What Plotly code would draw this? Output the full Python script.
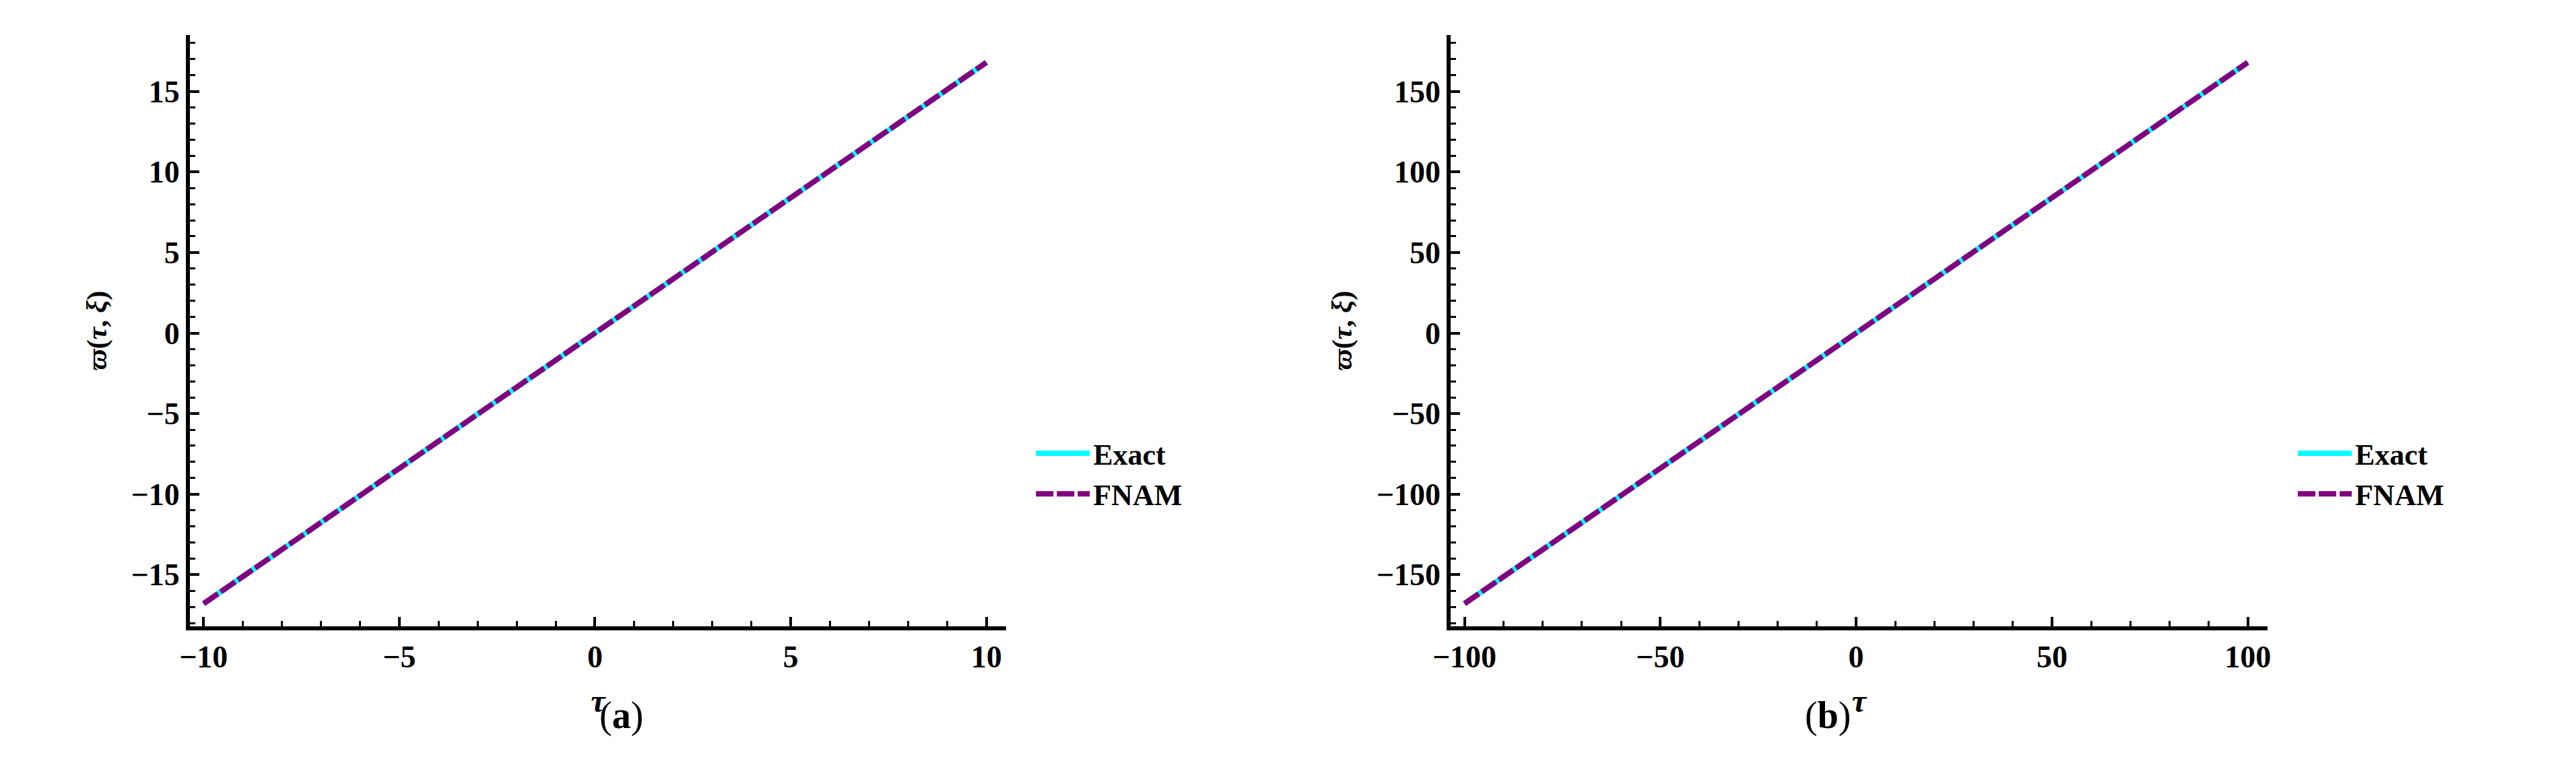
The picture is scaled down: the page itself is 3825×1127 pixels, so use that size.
import plotly.graph_objects as go

# panel (a)
tau_a = [-10, -5, 0, 5, 10]
exact_a = [-16.8, -8.4, 0, 8.4, 16.8]
fnam_a = [-16.8, -8.4, 0, 8.4, 16.8]
# panel (b)
tau_b = [-100, -50, 0, 50, 100]
exact_b = [-168, -84, 0, 84, 168]
fnam_b = [-168, -84, 0, 84, 168]

FONT = "Liberation Serif"

fig = go.Figure()

for xs, ex, fn, xa, ya, lg in [(tau_a, exact_a, fnam_a, "x", "y", "legend"),
                               (tau_b, exact_b, fnam_b, "x2", "y2", "legend2")]:
    fig.add_trace(go.Scatter(x=xs, y=ex, name="Exact", mode="lines",
                             line=dict(color="#00FFFF", width=8),
                             xaxis=xa, yaxis=ya, legend=lg))
    fig.add_trace(go.Scatter(x=xs, y=fn, name="FNAM", mode="lines",
                             line=dict(color="#800080", width=8, dash="26px,5px"),
                             xaxis=xa, yaxis=ya, legend=lg))

axis_common = dict(showline=True, linecolor="black", linewidth=6, showgrid=False,
                   zeroline=False, ticks="inside", ticklen=14, tickwidth=4,
                   tickcolor="black", mirror=False,
                   tickfont=dict(family=FONT, size=46, color="black", weight="bold"))
minor_a = dict(ticks="inside", dtick=1, ticklen=8, tickwidth=3, tickcolor="black")
minor_b = dict(ticks="inside", dtick=10, ticklen=8, tickwidth=3, tickcolor="black")
xtitle = dict(text="<b><i>τ</i></b>", font=dict(family=FONT, size=48), standoff=25)
ytitle = dict(text="<b><i>ϖ</i>(<i>τ</i>, <i>ξ</i>)</b>", font=dict(family=FONT, size=42), standoff=25)

fig.update_layout(
    width=3825, height=1127,
    margin=dict(l=0, r=0, t=0, b=0),
    plot_bgcolor="white", paper_bgcolor="white",
    font=dict(family=FONT, color="black"),
    xaxis=dict(domain=[0.0651, 0.3846], range=[-10.35, 10.5], dtick=5, anchor="y",
               minor=minor_a, title=xtitle, **axis_common),
    yaxis=dict(domain=[0.182, 0.961], range=[-18.2, 18.5], dtick=5, anchor="x",
               minor=minor_a, title=ytitle, **axis_common),
    xaxis2=dict(domain=[0.5587, 0.8784], range=[-103.5, 105], dtick=50, anchor="y2",
                minor=minor_b, title=xtitle, **axis_common),
    yaxis2=dict(domain=[0.182, 0.961], range=[-182, 185], dtick=50, anchor="x2",
                minor=minor_b, title=ytitle, **axis_common),
    legend=dict(x=0.395, y=0.383, xanchor="left", yanchor="middle", itemwidth=80,
                font=dict(family=FONT, size=44, weight="bold"), tracegroupgap=30),
    legend2=dict(x=0.889, y=0.383, xanchor="left", yanchor="middle", itemwidth=80,
                 font=dict(family=FONT, size=44, weight="bold"), tracegroupgap=30),
    annotations=[
        dict(text="(<b>a</b>)", x=0.2248, y=0.035, xref="paper", yref="paper",
             showarrow=False, font=dict(family=FONT, size=56)),
        dict(text="(<b>b</b>)", x=0.7158, y=0.035, xref="paper", yref="paper",
             showarrow=False, font=dict(family=FONT, size=56)),
    ],
)

fig.write_html("out.html")
